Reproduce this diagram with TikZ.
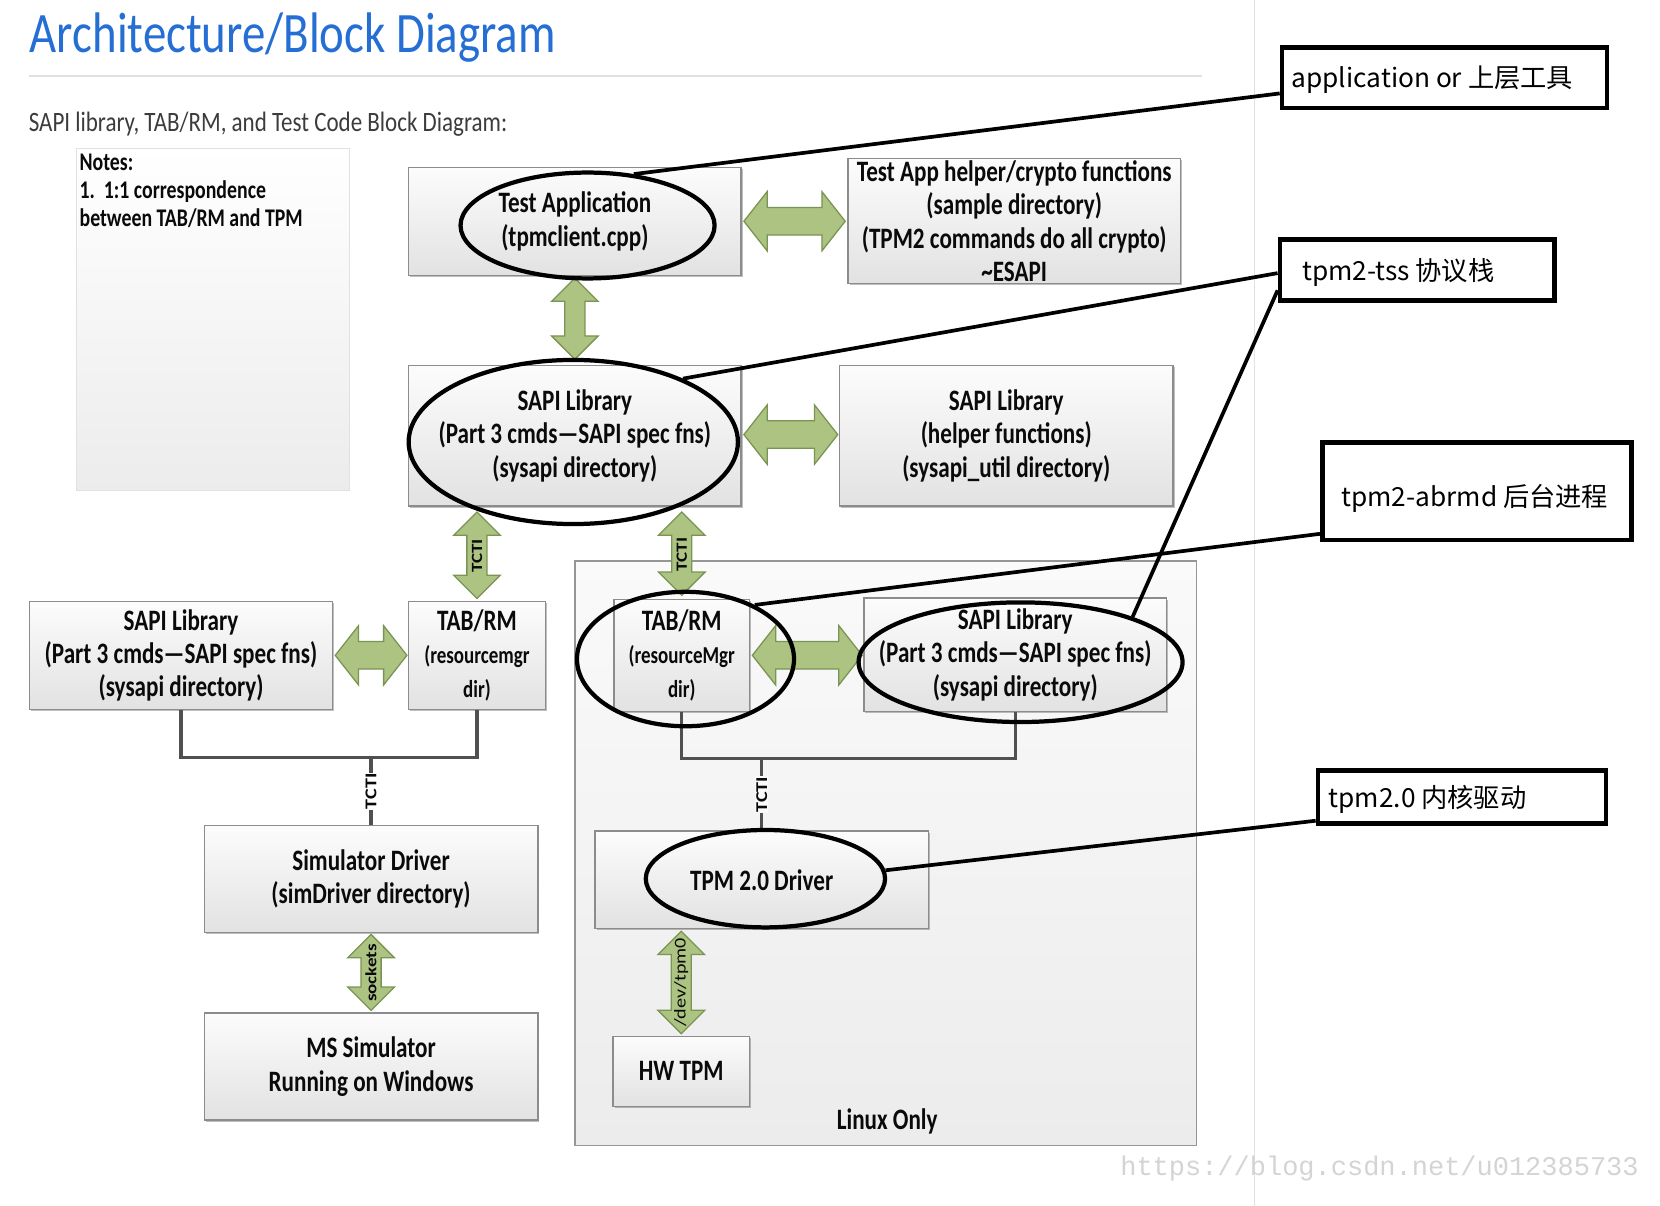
\documentclass[tikz,border=0pt]{standalone}
\usepackage{fontspec}
\setmainfont{Carlito}
\newfontfamily\bx[FakeStretch=0.82]{Carlito}
\newfontfamily\bxb[FakeStretch=0.78]{Carlito}
\newfontfamily\nbf[FakeStretch=0.78]{Carlito Bold}
\newfontfamily\cjk{Noto Sans CJK SC}
\newfontfamily\wm{Liberation Mono}
\usetikzlibrary{calc,shapes.geometric,shadows}

\definecolor{titleblue}{RGB}{36,110,212}
\definecolor{boxline}{RGB}{140,140,140}
\definecolor{boxtop}{RGB}{252,252,252}
\definecolor{boxbot}{RGB}{226,226,226}
\definecolor{gfill}{RGB}{172,195,130}
\definecolor{gline}{RGB}{122,148,82}
\definecolor{connc}{RGB}{80,80,80}
\definecolor{txt}{RGB}{10,10,10}
\definecolor{rulec}{RGB}{225,225,225}
\definecolor{lxtop}{RGB}{250,250,250}
\definecolor{lxbot}{RGB}{236,236,236}
\definecolor{lxline}{RGB}{150,150,150}
\definecolor{wmc}{RGB}{212,212,212}
\definecolor{subc}{RGB}{60,60,60}

\tikzset{
  blk/.style={draw=boxline, line width=1.3pt, top color=boxtop, bottom color=boxbot,
    align=center, inner sep=0pt, text=txt, font=\bxb\bfseries\fontsize{28}{31.5}\selectfont,
    drop shadow={shadow xshift=1.5pt, shadow yshift=-1.5pt, opacity=0.25, fill=black}},
  lxbox/.style={draw=lxline, line width=1.3pt, top color=lxtop, bottom color=lxbot, inner sep=0pt},
  notesbox/.style={draw=rulec, line width=1pt, top color=white, bottom color=lxbot, inner sep=0pt},
  oval/.style={ellipse, draw=black, line width=4pt, inner sep=0pt},
  garrow/.style={fill=gfill, draw=gline, line width=1.2pt, line join=miter},
  conn/.style={draw=connc, line width=3pt},
  callout/.style={draw=black, line width=3.5pt},
  lab/.style={draw=black, line width=4.5pt, fill=white, inner ysep=0pt,
    font=\cjk\fontsize{24.8}{30}\selectfont, text=black},
  tctia/.style={font=\bfseries\fontsize{18}{18}\selectfont, rotate=90, yscale=0.82, inner sep=0.5pt, text=txt},
  tctil/.style={font=\bfseries\fontsize{19}{19}\selectfont, rotate=90, yscale=0.82, inner sep=1pt, text=txt},
}

\newcommand{\hdbl}[2]{\filldraw[garrow] let \p1=(#1), \p2=(#2) in
  (\x1,\y1) -- (\x1+22pt,\y1+28pt) -- (\x1+22pt,\y1+13pt) -- (\x2-22pt,\y1+13pt) --
  (\x2-22pt,\y1+28pt) -- (\x2,\y1) -- (\x2-22pt,\y1-28pt) -- (\x2-22pt,\y1-13pt) --
  (\x1+22pt,\y1-13pt) -- (\x1+22pt,\y1-28pt) -- cycle;}
\newcommand{\vdbl}[2]{\filldraw[garrow] let \p1=(#1), \p2=(#2) in
  (\x1,\y1) -- (\x1+22pt,\y1-22pt) -- (\x1+9.5pt,\y1-22pt) -- (\x1+9.5pt,\y2+22pt) --
  (\x1+22pt,\y2+22pt) -- (\x1,\y2) -- (\x1-22pt,\y2+22pt) -- (\x1-9.5pt,\y2+22pt) --
  (\x1-9.5pt,\y1-22pt) -- (\x1-22pt,\y1-22pt) -- cycle;}

\begin{document}
\begin{tikzpicture}[x=1pt,y=-1pt]
\useasboundingbox (0,0) rectangle (1568,1139);
\fill[white] (0,0) rectangle (1568,1139);

% page rules
\draw[rulec, line width=1.5pt] (27,72) -- (1135,72);
\draw[rulec, line width=1.5pt] (1185,0) -- (1185,1139);

% title and subtitle
\node[anchor=base west, inner sep=0pt, text=titleblue, font=\bx\fontsize{54}{60}\selectfont] (title) at (28,50) {Architecture/Block Diagram};
\node[anchor=base west, inner sep=0pt, text=subc, font=\bx\fontsize{26.5}{30}\selectfont] (sub) at (27,124) {SAPI library, TAB/RM, and Test Code Block Diagram:};

% notes panel
\node[notesbox, minimum width=258pt, minimum height=323pt] (nb) at (201,301.5) {};
\node[anchor=north west, inner sep=0pt, align=left, text=txt, font=\nbf\fontsize{24}{26.5}\selectfont] (notes) at (75,145) {Notes:\\1.\ \ 1:1 correspondence\\between TAB/RM and TPM};

% Linux container
\node[lxbox, minimum width=587pt, minimum height=552pt] (lx) at (836.5,806) {};
\node[font=\bxb\bfseries\fontsize{28}{30}\selectfont, text=txt, inner sep=0pt] (lo) at (838,1059) {Linux Only};

% boxes
\node[blk, minimum width=314pt, minimum height=102pt] (ta) at (543,209) {Test Application\\(tpmclient.cpp)};
\node[blk, minimum width=314pt, minimum height=118pt] (th) at (958,209) {Test App helper/crypto functions\\(sample directory)\\(TPM2 commands do all crypto)\\\textasciitilde ESAPI};
\node[blk, minimum width=314pt, minimum height=133pt] (sa) at (543,411.5) {SAPI Library\\(Part 3 cmds—SAPI spec fns)\\(sysapi directory)};
\node[blk, minimum width=315pt, minimum height=133pt] (sh) at (950.5,411.5) {SAPI Library\\(helper functions)\\(sysapi\_util directory)};
\node[blk, minimum width=286pt, minimum height=102pt] (sl) at (171,619) {SAPI Library\\(Part 3 cmds—SAPI spec fns)\\(sysapi directory)};
\node[blk, minimum width=129pt, minimum height=102pt] (tl) at (450.5,619) {TAB/RM\\{\fontsize{23}{31.5}\selectfont (resourcemgr}\\{\fontsize{23}{31.5}\selectfont dir)}};
\node[blk, minimum width=128pt, minimum height=106pt] (tr) at (644,619) {TAB/RM\\{\fontsize{23}{30}\selectfont (resourceMgr}\\{\fontsize{23}{30}\selectfont dir)}};
\node[blk, minimum width=286pt, minimum height=107pt] (sr) at (959,618.5) {SAPI Library\\(Part 3 cmds—SAPI spec fns)\\(sysapi directory)};
\node[blk, minimum width=315pt, minimum height=101pt] (sd) at (350.5,830.5) {Simulator Driver\\(simDriver directory)};
\node[blk, minimum width=315pt, minimum height=101pt] (ms) at (350.5,1007.5) {MS Simulator\\Running on Windows};
\node[blk, minimum width=315pt, minimum height=92pt] (td) at (719.5,831) {TPM 2.0 Driver};
\node[blk, minimum width=129pt, minimum height=66pt] (hw) at (643.5,1012) {HW TPM};

% green double arrows
\hdbl{$(ta.east)+(2,0)$}{$(th.west)+(-2,0)$}
\vdbl{$(ta.south)+(0,2)$}{$(sa.north)+(0,-5)$}
\hdbl{$(sa.east)+(2,-1)$}{$(sh.west)+(-1,0)$}
\vdbl{$(sa.south -| tl.north)+(0,5)$}{$(tl.north)+(0,-2)$}
\vdbl{$(sa.south -| tr.north)+(0,5)$}{$(tr.north)+(0,-3)$}
\hdbl{$(sl.east)+(2,0)$}{$(tl.west)+(-1,0)$}
\hdbl{$(tr.east)+(2,0)$}{$(sr.west)+(-1,0)$}
\vdbl{$(sd.south)+(0,1)$}{$(ms.north)+(0,-2)$}
\vdbl{$(td.south -| hw.north)+(0,2)$}{$(hw.north)+(0,-2)$}

\node[tctia] (tc1) at ($(sa.south -| tl.north)!0.5!(tl.north)+(0,2)$) {TCTI};
\node[tctia] (tc2) at ($(sa.south -| tr.north)!0.5!(tr.north)+(0,2)$) {TCTI};
\node[font=\bfseries\fontsize{18}{18}\selectfont, rotate=90, yscale=0.82, inner sep=0pt, text=txt] (sock) at ($(sd.south)!0.5!(ms.north)$) {sockets};
\node[font=\fontsize{19}{19}\selectfont, rotate=90, yscale=0.82, inner sep=0pt, text=txt] (dev) at ($(td.south -| hw.north)!0.5!(hw.north)$) {/dev/tpm0};

% connector trees
\coordinate (lb) at ($(sl.south)+(0,45)$);
\draw[conn] (sl.south) -- (lb) -| (tl.south);
\draw[conn] (lb -| sd.north) -- node[tctil, fill=white] (tc3) {TCTI} (sd.north);
\coordinate (rb) at ($(tr.south)+(0,44)$);
\draw[conn] (tr.south) -- (rb) -| (sr.south);
\draw[conn] (rb -| td.north) -- node[tctil, fill=lxtop] (tc4) {TCTI} (td.north);

% ellipses
\node[oval, minimum width=240pt, minimum height=100pt] (e1) at (555,213) {};
\node[oval, minimum width=311pt, minimum height=155pt] (e2) at (541.5,417.5) {};
\node[oval, minimum width=205pt, minimum height=127pt] (e3) at (647.5,622.5) {};
\node[oval, minimum width=306pt, minimum height=113pt] (e4) at (964,625.5) {};
\node[oval, minimum width=226pt, minimum height=92pt] (e5) at (723,830) {};

% label boxes
\node[lab, minimum width=307pt, minimum height=57pt, inner xsep=9pt] (l1) at (1364.5,73.5) {\makebox[289pt][l]{\raisebox{-9.5pt}[0pt][0pt]{application or 上层工具}}};
\node[lab, minimum width=259pt, minimum height=58pt, inner xsep=21pt] (l2) at (1338.5,255) {\makebox[217pt][l]{\raisebox{-9.5pt}[0pt][0pt]{tpm2-tss 协议栈}}};
\node[lab, minimum width=292pt, minimum height=92pt, inner xsep=18pt] (l3) at (1395,464) {\makebox[256pt][l]{\raisebox{-14.5pt}[0pt][0pt]{tpm2-abrmd 后台进程}}};
\node[lab, minimum width=272pt, minimum height=50pt, inner xsep=10pt] (l4) at (1381,753) {\makebox[252pt][l]{\raisebox{-9.5pt}[0pt][0pt]{tpm2.0 内核驱动}}};

% callout lines
\draw[callout] (e1.48) -- ($(l1.south west)+(0,-16)$);
\draw[callout] (e2.30) -- ($(l2.west)+(0,3)$);
\draw[callout] ($(l2.south west)+(0,-12)$) -- (e4.22);
\draw[callout] (e3.38) -- ($(l3.south west)+(0,-8)$);
\draw[callout] (e5.4) -- ($(l4.south west)+(0,-5)$);

% watermark
\node[anchor=base west, inner sep=0pt, text=wmc, font=\wm\fontsize{25.5}{28}\selectfont] (wmk) at (1058,1110) {https://blog.csdn.net/u012385733};
\end{tikzpicture}
\end{document}
